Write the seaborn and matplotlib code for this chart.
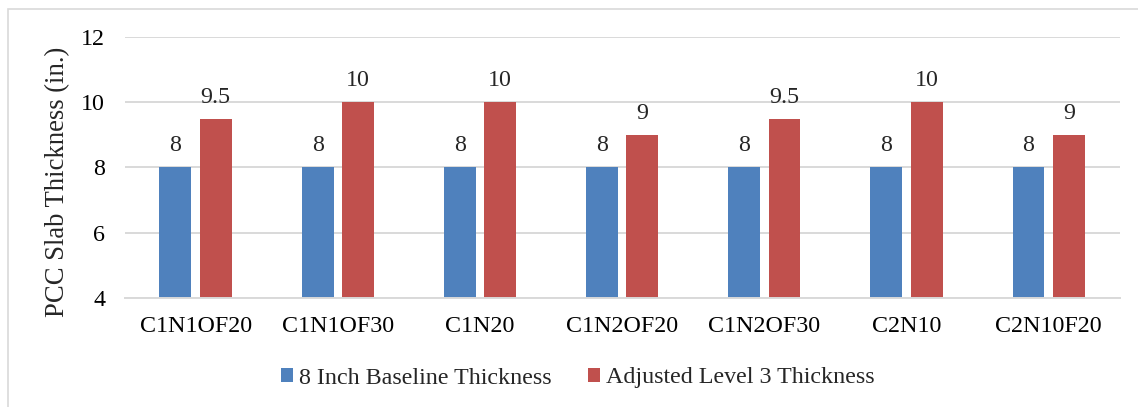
import matplotlib
matplotlib.use("Agg")
import matplotlib.pyplot as plt
from matplotlib.patches import Rectangle
import seaborn as sns
import pandas as pd

# Slab thickness per design scenario
scenarios = ["C1N1OF20", "C1N1OF30", "C1N20", "C1N2OF20", "C1N2OF30", "C2N10", "C2N10F20"]
baseline = [8, 8, 8, 8, 8, 8, 8]
adjusted = [9.5, 10, 10, 9, 9.5, 10, 9]
series_names = ["8 Inch Baseline Thickness", "Adjusted Level 3 Thickness"]
y_ticks = [4, 6, 8, 10, 12]

df = pd.DataFrame({
    "Scenario": scenarios * 2,
    "Series": [series_names[0]] * len(scenarios) + [series_names[1]] * len(scenarios),
    "Thickness": baseline + adjusted,
})

sns.set_style("white")
plt.rcParams["font.family"] = ["Liberation Serif", "DejaVu Serif"]

W, H = 1138, 407
FS = 17.3
fig = plt.figure(figsize=(W / 100, H / 100), dpi=100)
ax = fig.add_axes([124.5 / W, 1 - 297.7 / H, 995.3 / W, (297.7 - 37.3) / H])

palette = {series_names[0]: "#4F81BD", series_names[1]: "#C0504D"}
sns.barplot(data=df, x="Scenario", y="Thickness", hue="Series", palette=palette,
            width=0.568, gap=0.21, saturation=1, edgecolor="none", ax=ax,
            legend=True)

ax.set_ylim(4, 12)
ax.set_yticks(y_ticks)
ax.set_xlim(-0.5, len(scenarios) - 0.5)
ax.yaxis.grid(True, color="#d9d9d9", linewidth=1.4)
ax.set_axisbelow(True)
for side in ["top", "right", "left"]:
    ax.spines[side].set_visible(False)
ax.spines["bottom"].set_color("#d9d9d9")
ax.spines["bottom"].set_linewidth(1.4)
ax.tick_params(axis="both", length=0, labelsize=FS, colors="black")
ax.tick_params(axis="y", pad=14)
ax.tick_params(axis="x", pad=13)
ax.set_xlabel("")
ax.set_ylabel("PCC Slab Thickness (in.)", fontsize=19.2)
ax.yaxis.set_label_coords(-0.0548, 0.444)

for cont in ax.containers:
    ax.bar_label(cont, fmt="{:g}", padding=8, fontsize=FS)

handles, labels = ax.get_legend_handles_labels()
ax.legend(handles, labels, loc="center", ncol=2, frameon=False, fontsize=FS,
          handlelength=0.5, handleheight=0.5, handletextpad=0.25, columnspacing=1.5)
leg = ax.get_legend()
leg.set_bbox_to_anchor((578 / W, 1 - 378 / H), transform=fig.transFigure)

# Chart frame
fig.patches.append(Rectangle((7.5 / W, -0.1), 1.2, 1.1 - 8.5 / H, transform=fig.transFigure,
                             fill=False, edgecolor="#d9d9d9", linewidth=1.2))

fig.savefig("out.png", dpi=100)
